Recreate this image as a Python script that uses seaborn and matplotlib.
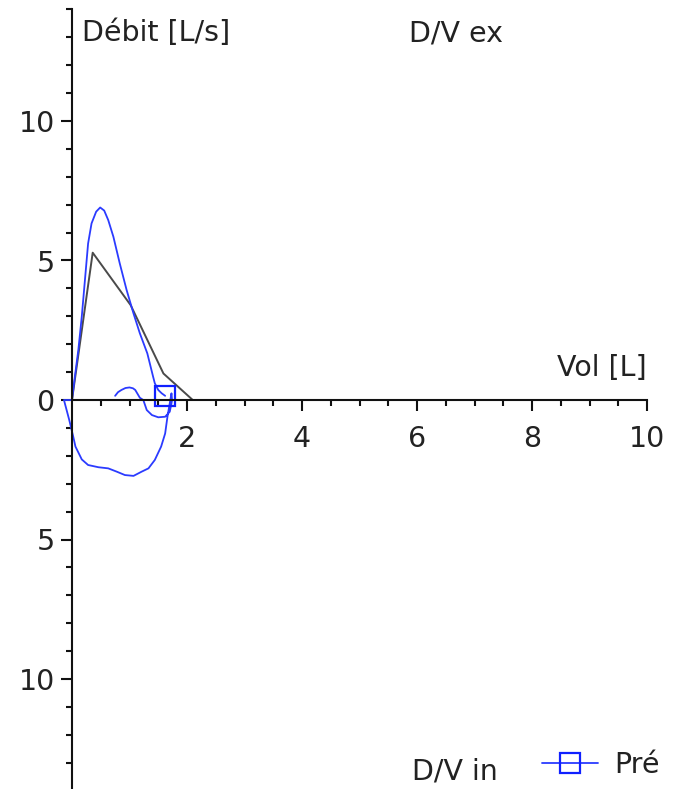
import matplotlib
matplotlib.use("Agg")
import matplotlib.pyplot as plt
from matplotlib.lines import Line2D
from matplotlib.ticker import FixedLocator
import pandas as pd
import seaborn as sns

# Predicted flow-volume curve (expiration)
pred_vol = [0.0, 0.36, 1.02, 1.59, 2.10]
pred_flow = [0.0, 5.28, 3.40, 0.95, 0.0]

# Measured flow-volume loop, in recording order
meas_vol = [0.75, 0.80, 0.86, 0.93, 1.00, 1.06, 1.10, 1.14, 1.18, 1.24,
            1.26, 1.30, 1.39, 1.50, 1.62, 1.70, 1.73, 1.74, 1.20, 1.74,
            1.73, 1.70, 1.66, 1.62, 1.55, 1.44, 1.33, 1.21, 1.07, 0.92,
            0.78, 0.63, 0.46, 0.28, 0.17, 0.06, 0.02, -0.05, -0.14, 0.00,
            0.05, 0.11, 0.17, 0.23, 0.28, 0.34, 0.42, 0.49, 0.56, 0.63,
            0.72, 0.83, 0.95, 1.07, 1.18, 1.31, 1.41, 1.44, 1.50, 1.56, 1.62]
meas_flow = [0.15, 0.28, 0.36, 0.43, 0.45, 0.42, 0.36, 0.22, 0.08, 0.00,
             -0.12, -0.36, -0.54, -0.62, -0.60, -0.42, -0.12, 0.00, 0.00, 0.00,
             0.24, -0.12, -0.60, -1.20, -1.67, -2.15, -2.45, -2.57, -2.72, -2.69,
             -2.57, -2.45, -2.41, -2.33, -2.13, -1.67, -1.30, -0.70, 0.00, 0.00,
             0.84, 1.79, 2.99, 4.42, 5.61, 6.33, 6.75, 6.90, 6.79, 6.45,
             5.85, 4.90, 3.94, 3.10, 2.39, 1.67, 0.84, 0.60, 0.36, 0.24, 0.15]

y_major = [-10, -5, 0, 5, 10]
y_labels = ["10", "5", "0", "5", "10"]
x_major = [2, 4, 6, 8, 10]
x_labels = ["2", "4", "6", "8", "10"]
series_label = "Pré"

sns.set_style("white")
plt.rcParams["font.family"] = ["DejaVu Sans"]
FS = 20.5
TXT = "#222222"
BLUE = "#2b3bff"
AXC = "#111111"

fig = plt.figure(figsize=(6.79, 7.89), dpi=100)
ax = fig.add_axes([0, 0, 1, 1])
ax.set_facecolor("white")

pred = pd.DataFrame({"vol": pred_vol, "flow": pred_flow})
meas = pd.DataFrame({"vol": meas_vol, "flow": meas_flow})

sns.lineplot(data=pred, x="vol", y="flow", sort=False, estimator=None,
             color="#4a4a4a", linewidth=1.4, ax=ax)
sns.lineplot(data=meas, x="vol", y="flow", sort=False, estimator=None,
             color=BLUE, linewidth=1.3, ax=ax)
mline = ax.lines[-1]
mline.set_marker("s")
mline.set_markevery([len(meas_vol) - 1])
mline.set_markersize(14)
mline.set_markerfacecolor("none")
mline.set_markeredgecolor("#1020ff")
mline.set_markeredgewidth(1.6)

# axis limits so the origin sits where the axes cross
ax.set_xlim(-72 / 57.5, 10 + 32 / 57.5)
ax.set_ylim(-389 / 27.9, 400 / 27.9)

for side in ["top", "right"]:
    ax.spines[side].set_visible(False)
ax.spines["left"].set_position(("data", 0))
ax.spines["bottom"].set_position(("data", 0))
ax.spines["left"].set_bounds(-14, 14)
ax.spines["bottom"].set_bounds(0, 10)
for side in ["left", "bottom"]:
    ax.spines[side].set_linewidth(1.5)
    ax.spines[side].set_color(AXC)

ax.yaxis.set_major_locator(FixedLocator(y_major))
ax.set_yticklabels(y_labels)
ax.yaxis.set_minor_locator(FixedLocator(list(range(-14, 15))))
ax.xaxis.set_major_locator(FixedLocator(x_major))
ax.set_xticklabels(x_labels)
ax.xaxis.set_minor_locator(FixedLocator([v * 0.5 for v in range(1, 20)]))

ax.tick_params(axis="both", which="both", bottom=True, left=True,
               top=False, right=False)
ax.tick_params(axis="both", which="major", direction="out", length=8,
               width=1.5, color=AXC, labelsize=FS, labelcolor=TXT)
ax.tick_params(axis="both", which="minor", direction="out", length=4.5,
               width=1.5, color=AXC)
ax.tick_params(axis="y", which="major", pad=4.5)
ax.tick_params(axis="x", which="major", pad=10)
ax.set_xlabel("")
ax.set_ylabel("")


def fig_text(px, py, s, ha="left", va="center"):
    fig.text(px / 679, 1 - py / 789, s, ha=ha, va=va, fontsize=FS, color=TXT)


fig_text(82, 33, "Débit [L/s]")
fig_text(456, 33, "D/V ex", ha="center")
fig_text(647, 368, "Vol [L]", ha="right")
fig_text(455, 771, "D/V in", ha="center")

handle = Line2D([], [], color=BLUE, linewidth=1.3, marker="s", markersize=14,
                markerfacecolor="none", markeredgecolor="#1020ff",
                markeredgewidth=1.6)
ax.legend([handle], [series_label], loc="center left",
          bbox_to_anchor=(542 / 679, 1 - 765 / 789),
          bbox_transform=fig.transFigure, frameon=False, fontsize=FS,
          handlelength=1.95, handletextpad=0.6, borderpad=0,
          borderaxespad=0, labelcolor=TXT)

fig.savefig("out.png", dpi=100, facecolor="white")
